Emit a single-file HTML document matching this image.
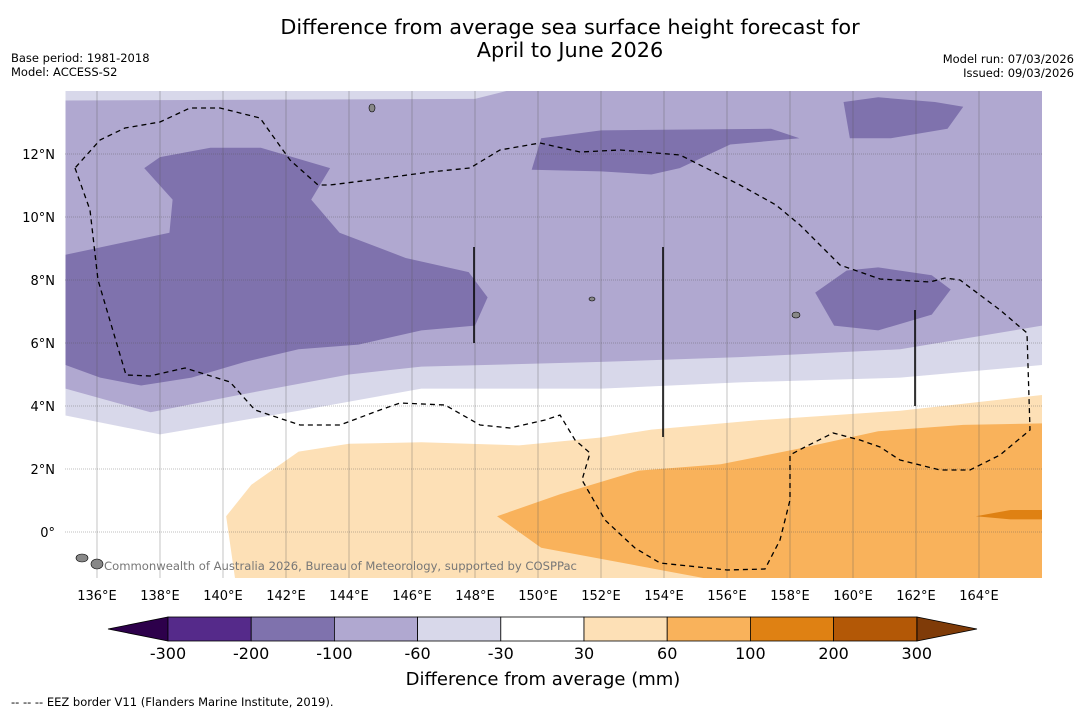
<!DOCTYPE html>
<html><head><meta charset="utf-8">
<style>
body{margin:0;width:1085px;height:713px;background:#fff;font-family:"Liberation Sans","DejaVu Sans",sans-serif;overflow:hidden}
svg{position:absolute;left:0;top:0}
</style></head>
<body>
<svg id="chart" width="1085" height="713" font-family="DejaVu Sans, Liberation Sans, sans-serif">
<text x="570" y="34" text-anchor="middle" font-size="20.8">Difference from average sea surface height forecast for</text>
<text x="570" y="57" text-anchor="middle" font-size="20.8">April to June 2026</text>
<text x="11" y="62" font-size="11.5">Base period: 1981-2018</text>
<text x="11" y="76" font-size="11.5">Model: ACCESS-S2</text>
<text x="1074" y="63" font-size="11.5" text-anchor="end">Model run: 07/03/2026</text>
<text x="1074" y="77" font-size="11.5" text-anchor="end">Issued: 09/03/2026</text>
<defs><clipPath id="mapclip"><rect x="65" y="91" width="977" height="487"/></clipPath></defs>
<g id="map" clip-path="url(#mapclip)"></g>
<g id="axes"></g>
<g id="cbar"></g>
<text x="543" y="685" text-anchor="middle" font-size="18">Difference from average (mm)</text>
<text x="11" y="706" font-size="11.5">--  --  -- EEZ border V11 (Flanders Marine Institute, 2019).</text>
</svg>
<script>
const lonTicks=[136,138,140,142,144,146,148,150,152,154,156,158,160,162,164];
const latTicks=[0,2,4,6,8,10,12];
const cbLevels=[-300,-200,-100,-60,-30,30,60,100,200,300];
const cbColors=['#552a8a','#7f72ad','#b0a8d0','#d8d8ea','#ffffff','#fde0b6','#f9b25b','#df8113','#b35806'];
const polyLight=[[135,14],[166,14],[166,5.3],[161.5,4.9],[156.4,4.75],[152,4.55],[146.3,4.55],[142.4,3.85],[138,3.1],[135,3.7]];
const polyMed=[[135,13.7],[148,13.75],[149,14],[166,14],[166,6.55],[161.5,5.8],[156.4,5.55],[152,5.4],[146.3,5.25],[144,5.0],[140.5,4.35],[137.7,3.8],[135,4.55]];
const polyDarkA=[[135,8.8],[138.3,9.5],[138.4,10.55],[137.5,11.55],[138,11.9],[139.6,12.2],[141.2,12.2],[143.4,11.55],[142.8,10.55],[143.7,9.5],[145.8,8.7],[147.8,8.25],[148.4,7.45],[148,6.55],[146.3,6.4],[144.3,5.95],[142.4,5.8],[140.7,5.4],[139,4.9],[137.4,4.65],[136.1,4.9],[135,5.3]];
const polyDarkB=[[150.1,12.5],[152,12.75],[157.4,12.8],[158.3,12.5],[156.1,12.3],[154.5,11.55],[153.6,11.35],[152,11.45],[149.8,11.5]];
const polyDarkC=[[159.7,13.65],[160.8,13.8],[162.6,13.65],[163.5,13.5],[163,12.8],[161.2,12.5],[159.9,12.5]];
const polyDarkD=[[158.8,7.6],[159.8,8.3],[160.8,8.4],[162.5,8.15],[163.1,7.7],[162.5,6.9],[160.8,6.4],[159.4,6.55]];
const polyOr1=[[140.1,0.5],[140.9,1.5],[142.4,2.55],[144,2.8],[146.3,2.85],[149.4,2.75],[152,3.0],[153.6,3.25],[157,3.55],[161.5,3.85],[166,4.35],[166,-1.6],[140.4,-1.6]];
const polyOr2=[[148.7,0.5],[150.7,1.2],[153.2,1.95],[155.8,2.15],[158.3,2.65],[160.8,3.2],[163.5,3.4],[166,3.45],[166,-1.6],[156,-1.6],[150.1,-0.5]];
const polyOr3=[[163.9,0.5],[165,0.7],[166,0.7],[166,0.4],[165,0.4]];
const layers=[[polyLight,'#d8d8ea','light-lavender-region'],[polyMed,'#b0a8d0','medium-lavender-region'],[polyDarkA,'#7f72ad','dark-purple-west'],[polyDarkB,'#7f72ad','dark-purple-north'],[polyDarkC,'#7f72ad','dark-purple-northeast'],[polyDarkD,'#7f72ad','dark-purple-east'],[polyOr1,'#fde0b6','light-orange-region'],[polyOr2,'#f9b25b','orange-region'],[polyOr3,'#df8113','dark-orange-sliver']];
const X=lon=>65.5+(lon-135)*31.5;
const Y=lat=>91+(14-lat)*31.5;
const NS='http://www.w3.org/2000/svg';
function mk(t,a,p){const e=document.createElementNS(NS,t);for(const k in a)e.setAttribute(k,a[k]);p.appendChild(e);return e;}
const mapG=document.getElementById('map'),axesG=document.getElementById('axes'),cbG=document.getElementById('cbar');
mk('rect',{x:65,y:91,width:977,height:487,fill:'#fff'},mapG);
layers.forEach(l=>{
 const p=mk('polygon',{points:l[0].map(q=>X(q[0])+','+Y(q[1])).join(' '),fill:l[1]},mapG);
 
 
});
lonTicks.forEach(v=>{
 const l=mk('line',{x1:X(v),x2:X(v),y1:91,y2:578,stroke:'#555','stroke-opacity':0.5,'stroke-width':0.7},mapG);
 
 
 const t=mk('text',{x:X(v),y:600,'text-anchor':'middle','font-size':13},axesG);t.textContent=v+'°E';
 
 
});
latTicks.forEach(v=>{
 const l=mk('line',{x1:65,x2:1042,y1:Y(v),y2:Y(v),stroke:'#555','stroke-opacity':0.5,'stroke-width':0.7,'stroke-dasharray':'1,1'},mapG);
 
 
 const t=mk('text',{x:55,y:Y(v)+5,'text-anchor':'end','font-size':13},axesG);t.textContent=v===0?'0°':v+'°N';
 
 
});
const eez=mk('path',{d:'M75,168 L90,210 98,280 126,375 150,376 185,368 230,382 255,410 300,425 340,425 380,410 400,403 445,405 480,425 510,428 545,420 560,415 575,440 590,453 582,480 605,520 635,548 660,563 727,570 765,569 780,540 790,500 790,455 805,447 833,433 860,440 880,447 900,460 940,470 970,470 1000,455 1030,430 1027,333 1000,310 960,280 945,278 930,282 880,279 840,265 800,225 776,205 740,185 680,155 620,150 580,152 540,143 500,150 470,168 430,172 370,180 330,185 318,185 290,160 260,118 220,108 190,108 160,122 125,128 100,140 Z',fill:'none',stroke:'#000','stroke-width':1.3,'stroke-dasharray':'5,4'},mapG);


[[474,247,343],[663,247,437],[915,310,406]].forEach(s=>{
 const l=mk('line',{x1:s[0],x2:s[0],y1:s[1],y2:s[2],stroke:'#000','stroke-width':1.5},mapG);
 
 
});
[[82,558,6,4],[97,564,6,5],[372,108,3,4],[796,315,4,3],[592,299,3,2]].forEach(s=>{
 const e=mk('ellipse',{cx:s[0],cy:s[1],rx:s[2],ry:s[3],fill:'#888',stroke:'#000','stroke-width':0.6},mapG);
 
 
});
const cp=mk('text',{x:104,y:570,'font-size':11.6,fill:'#777'},mapG);cp.textContent='Commonwealth of Australia 2026, Bureau of Meteorology, supported by COSPPac';


const cbX=i=>168+i*83.2;
const cbTop=617,cbH=24;
const lt=mk('polygon',{points:`108,${cbTop+cbH/2} 168,${cbTop} 168,${cbTop+cbH}`,fill:'#2d004b',stroke:'#000','stroke-width':0.8},cbG);


const rt=mk('polygon',{points:`977,${cbTop+cbH/2} 917,${cbTop} 917,${cbTop+cbH}`,fill:'#7f3b08',stroke:'#000','stroke-width':0.8},cbG);


cbColors.forEach((c,i)=>{
 const r=mk('rect',{x:cbX(i),y:cbTop,width:83.2,height:cbH,fill:c,stroke:'#000','stroke-width':0.8},cbG);
 
 
});
cbLevels.forEach((v,i)=>{
 const t=mk('text',{x:cbX(i),y:659,'text-anchor':'middle','font-size':16},cbG);t.textContent=v;
 
 
});
</script>
</body></html>
